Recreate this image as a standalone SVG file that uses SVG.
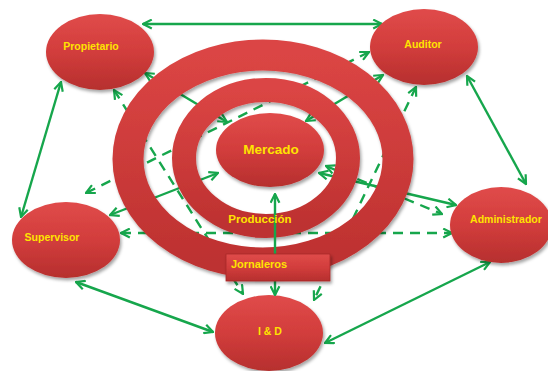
<svg xmlns="http://www.w3.org/2000/svg" width="548" height="371" viewBox="0 0 548 371">
<style>
.node{fill:url(#red);filter:url(#sh)}
.ring{fill:none;stroke:url(#redr);filter:url(#sh)}
.lbl{font-family:"Liberation Sans",Arial,sans-serif;font-weight:bold;fill:#ffe400;text-anchor:middle}
.c{fill:none;stroke:#16a64c;stroke-width:2.4;marker-end:url(#ah)}
.b{marker-start:url(#ah)}
.d{stroke-dasharray:10 7}
</style>
<defs>
<linearGradient id="red" x1="0" y1="0" x2="0" y2="1">
<stop offset="0" stop-color="#e04b4a"/>
<stop offset="0.5" stop-color="#d23d3c"/>
<stop offset="1" stop-color="#b62f2e"/>
</linearGradient>
<linearGradient id="redr" x1="0" y1="0" x2="0" y2="1">
<stop offset="0" stop-color="#db4544"/>
<stop offset="1" stop-color="#bd3130"/>
</linearGradient>
<filter id="sh" x="-20%" y="-20%" width="140%" height="140%">
<feDropShadow dx="1.5" dy="2.5" stdDeviation="1.8" flood-color="#000" flood-opacity="0.35"/>
</filter>
<marker id="ah" viewBox="0 0 10 10" refX="9" refY="5" markerWidth="11" markerHeight="11" markerUnits="userSpaceOnUse" orient="auto-start-reverse">
<path d="M1,1 L9,5 L1,9" fill="none" stroke="#16a64c" stroke-width="2"/>
</marker>
</defs>
<rect width="548" height="371" fill="#fff"/>
<g id="connectors">
<line class="c b" x1="143" y1="24" x2="382" y2="24"/>
<line class="c b" x1="467" y1="76" x2="526" y2="184"/>
<line class="c b" x1="61" y1="82" x2="21" y2="217"/>
<line class="c b" x1="76" y1="282" x2="213" y2="332"/>
<line class="c b" x1="490" y1="262" x2="325" y2="343"/>
<line class="c b" x1="218" y1="173" x2="110" y2="215"/>
<line class="c b" x1="319" y1="173" x2="456" y2="205"/>
<line class="c b" x1="383" y1="75" x2="306" y2="121"/>
<line class="c b" x1="145" y1="73" x2="227" y2="122"/>
<line class="c b d" x1="114" y1="90" x2="243" y2="294"/>
<line class="c b d" x1="369" y1="52" x2="86" y2="193"/>
<line class="c b d" x1="416" y1="87" x2="314" y2="300"/>
<line class="c b d" x1="121" y1="233" x2="452" y2="233"/>
<line class="c b d" x1="326" y1="166" x2="442" y2="214"/>
</g>
<g id="jornaleros-ring"><ellipse class="ring" cx="263" cy="159" rx="135" ry="104" stroke-width="31"/></g>
<g id="produccion-ring"><ellipse class="ring" cx="266" cy="158" rx="82" ry="68" stroke-width="24"/></g>
<g id="mercado"><ellipse class="node" cx="270" cy="150" rx="54" ry="37"/>
<text class="lbl" x="271" y="154" font-size="13.5">Mercado</text></g>
<g id="propietario"><ellipse class="node" cx="100" cy="52" rx="54" ry="38"/>
<text class="lbl" x="91" y="50" font-size="10.5">Propietario</text></g>
<g id="auditor"><ellipse class="node" cx="424" cy="47" rx="54" ry="38"/>
<text class="lbl" x="423" y="48" font-size="10.5">Auditor</text></g>
<g id="supervisor"><ellipse class="node" cx="66" cy="240" rx="54" ry="38"/>
<text class="lbl" x="52" y="241" font-size="10.5">Supervisor</text></g>
<g id="administrador"><ellipse class="node" cx="501" cy="225" rx="51" ry="38"/>
<text class="lbl" x="506" y="223" font-size="10.5">Administrador</text></g>
<g id="id"><ellipse class="node" cx="269" cy="333" rx="54" ry="38"/>
<text class="lbl" x="270" y="335" font-size="10.5">I &amp; D</text></g>
<g id="connectors-front">
<line class="c" x1="275" y1="254" x2="275" y2="194"/>
<line class="c" x1="275" y1="281" x2="275" y2="295"/>
</g>
<g id="produccion"><text class="lbl" x="260" y="223" font-size="11.5">Producción</text></g>
<g id="jornaleros"><rect x="226" y="254" width="104" height="27" fill="url(#red)" stroke="#a82828" stroke-width="0.8" filter="url(#sh)"/>
<text class="lbl" x="259" y="268" font-size="11">Jornaleros</text></g>
</svg>
